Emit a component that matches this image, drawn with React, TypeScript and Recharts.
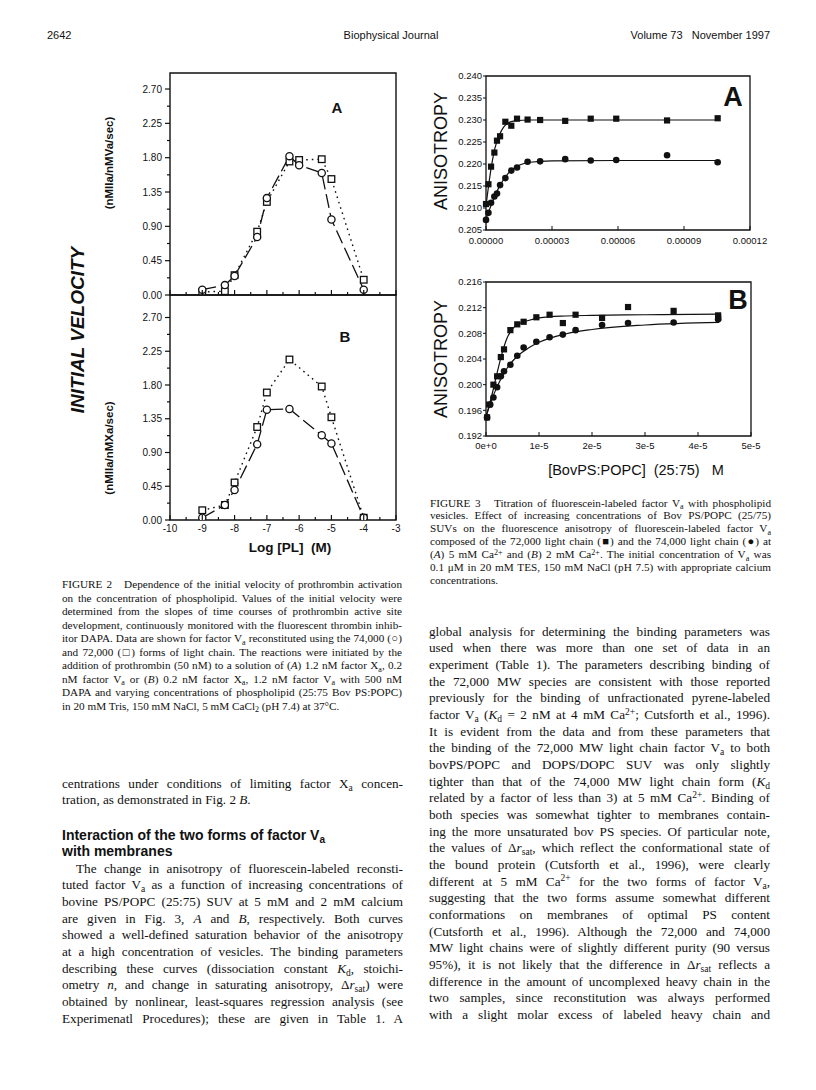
import React from "react";
import {
  LineChart,
  ComposedChart,
  Line,
  Scatter,
  XAxis,
  YAxis,
  ReferenceArea,
} from "recharts";

// ---- Figure 2: initial velocity vs log [PL] ----
const logPL_A = [-9, -8.3, -8, -7.3, -7, -6.3, -6, -5.3, -5, -4];
const velA_74k = [0.07, 0.13, 0.25, 0.76, 1.27, 1.82, 1.7, 1.6, 0.99, 0.07];
const velA_72k = [0.04, 0.05, 0.26, 0.83, 1.22, 1.75, 1.77, 1.78, 1.52, 0.2];

const logPL_B = [-9, -8.3, -8, -7.3, -7, -6.3, -5.3, -5, -4];
const velB_74k = [0.03, 0.2, 0.4, 1.01, 1.47, 1.48, 1.13, 1.02, 0.03];
const velB_72k = [0.13, 0.2, 0.5, 1.24, 1.7, 2.14, 1.78, 1.37, 0.03];

const velTicks = [0, 0.225, 0.45, 0.675, 0.9, 1.125, 1.35, 1.575, 1.8, 2.025, 2.25, 2.475, 2.7];
const logTicks = [-10, -9.5, -9, -8.5, -8, -7.5, -7, -6.5, -6, -5.5, -5, -4.5, -4, -3.5, -3];

// ---- Figure 3A: anisotropy, 5 mM Ca (x in µM) ----
const concA = [0, 1.1, 2.3, 3.8, 5.0, 6.4, 8.8, 11.5, 14.1, 18.9, 24.6, 36.0, 47.6, 59.2, 82.3, 105.3];
const anisoA_72k = [0.2109, 0.2154, 0.2194, 0.2226, 0.2253, 0.2263, 0.2296, 0.2287, 0.2303, 0.2301, 0.23, 0.2298, 0.2303, 0.2303, 0.2299, 0.2304];
const anisoA_74k = [0.2073, 0.2089, 0.2112, 0.2126, 0.2133, 0.2152, 0.2168, 0.2185, 0.2192, 0.2205, 0.2206, 0.2211, 0.2208, 0.2209, 0.222, 0.2204];
const fitA72_x = [0, 2, 4, 6, 8, 10, 13, 20, 30, 105];
const fitA72_y = [0.2105, 0.218, 0.2235, 0.2265, 0.2284, 0.2293, 0.2298, 0.23, 0.23, 0.23];
const fitA74_x = [0, 3, 6, 10, 15, 20, 30, 60, 105];
const fitA74_y = [0.2075, 0.2115, 0.2148, 0.2178, 0.2197, 0.2204, 0.2207, 0.2208, 0.2208];
const concA_ticks = [0, 30, 60, 90, 120];
const anisoA_ticks = [0.205, 0.21, 0.215, 0.22, 0.225, 0.23, 0.235, 0.24];

// ---- Figure 3B: anisotropy, 2 mM Ca (x in 1e-5 M) ----
const concB_72k = [0.02, 0.06, 0.14, 0.21, 0.28, 0.34, 0.46, 0.59, 0.71, 0.95, 1.2, 1.45, 1.69, 2.19, 2.68, 3.54, 4.38, 4.38];
const anisoB_72k = [0.1949, 0.1969, 0.2, 0.2013, 0.2043, 0.2055, 0.2085, 0.2094, 0.2098, 0.2105, 0.2109, 0.2096, 0.2109, 0.2104, 0.2121, 0.2115, 0.2108, 0.2104];
const concB_74k = [0.02, 0.08, 0.14, 0.21, 0.28, 0.34, 0.46, 0.59, 0.71, 0.95, 1.2, 1.45, 1.69, 2.19, 2.68, 3.54, 4.38];
const anisoB_74k = [0.1949, 0.1969, 0.198, 0.1996, 0.2013, 0.2021, 0.2031, 0.2045, 0.2058, 0.2067, 0.2074, 0.2078, 0.2085, 0.2093, 0.2096, 0.2097, 0.2102];
const fitB72_x = [0, 0.1, 0.2, 0.3, 0.4, 0.5, 0.6, 0.8, 1.0, 1.5, 2.0, 3.0, 4.4];
const fitB72_y = [0.195, 0.198, 0.2015, 0.2048, 0.2073, 0.2087, 0.2094, 0.21, 0.2104, 0.2107, 0.2108, 0.2109, 0.211];
const fitB74_x = [0, 0.1, 0.2, 0.3, 0.4, 0.6, 0.8, 1.0, 1.5, 2.0, 3.0, 4.4];
const fitB74_y = [0.195, 0.1975, 0.1995, 0.2012, 0.2026, 0.2045, 0.2057, 0.2066, 0.2079, 0.2086, 0.2093, 0.2097];
const concB_ticks = [0, 1, 2, 3, 4, 5];
const anisoB_ticks = [0.192, 0.196, 0.2, 0.204, 0.208, 0.212, 0.216];

// ---- page text ----
const fig2Caption = [
  "FIGURE 2   Dependence of the initial velocity of prothrombin activation",
  "on the concentration of phospholipid. Values of the initial velocity were",
  "determined from the slopes of time courses of prothrombin active site",
  "development, continuously monitored with the fluorescent thrombin inhib-",
  "itor DAPA. Data are shown for factor V_{a} reconstituted using the 74,000 (○)",
  "and 72,000 (□) forms of light chain. The reactions were initiated by the",
  "addition of prothrombin (50 nM) to a solution of (*A*) 1.2 nM factor X_{a}, 0.2",
  "nM factor V_{a} or (*B*) 0.2 nM factor X_{a}, 1.2 nM factor V_{a} with 500 nM",
  "DAPA and varying concentrations of phospholipid (25:75 Bov PS:POPC)",
  "in 20 mM Tris, 150 mM NaCl, 5 mM CaCl_{2} (pH 7.4) at 37°C.¶",
];
const fig3Caption = [
  "FIGURE 3   Titration of fluorescein-labeled factor V_{a} with phospholipid",
  "vesicles. Effect of increasing concentrations of Bov PS/POPC (25/75)",
  "SUVs on the fluorescence anisotropy of fluorescein-labeled factor V_{a}",
  "composed of the 72,000 light chain (■) and the 74,000 light chain (●) at",
  "(*A*) 5 mM Ca^{2+} and (*B*) 2 mM Ca^{2+}. The initial concentration of V_{a} was",
  "0.1 μM in 20 mM TES, 150 mM NaCl (pH 7.5) with appropriate calcium",
  "concentrations.¶",
];
const leftTop = [
  "centrations under conditions of limiting factor X_{a} concen-",
  "tration, as demonstrated in Fig. 2 *B*.¶",
];
const leftPara = [
  "The change in anisotropy of fluorescein-labeled reconsti-",
  "tuted factor V_{a} as a function of increasing concentrations of",
  "bovine PS/POPC (25:75) SUV at 5 mM and 2 mM calcium",
  "are given in Fig. 3, *A* and *B*, respectively. Both curves",
  "showed a well-defined saturation behavior of the anisotropy",
  "at a high concentration of vesicles. The binding parameters",
  "describing these curves (dissociation constant *K*_{d}, stoichi-",
  "ometry *n*, and change in saturating anisotropy, Δ*r*_{sat}) were",
  "obtained by nonlinear, least-squares regression analysis (see",
  "Experimenatl Procedures); these are given in Table 1. A",
];
const rightPara = [
  "global analysis for determining the binding parameters was",
  "used when there was more than one set of data in an",
  "experiment (Table 1). The parameters describing binding of",
  "the 72,000 MW species are consistent with those reported",
  "previously for the binding of unfractionated pyrene-labeled",
  "factor V_{a} (*K*_{d} = 2 nM at 4 mM Ca^{2+}; Cutsforth et al., 1996).",
  "It is evident from the data and from these parameters that",
  "the binding of the 72,000 MW light chain factor V_{a} to both",
  "bovPS/POPC and DOPS/DOPC SUV was only slightly",
  "tighter than that of the 74,000 MW light chain form (*K*_{d}",
  "related by a factor of less than 3) at 5 mM Ca^{2+}. Binding of",
  "both species was somewhat tighter to membranes contain-",
  "ing the more unsaturated bov PS species. Of particular note,",
  "the values of Δ*r*_{sat}, which reflect the conformational state of",
  "the bound protein (Cutsforth et al., 1996), were clearly",
  "different at 5 mM Ca^{2+} for the two forms of factor V_{a},",
  "suggesting that the two forms assume somewhat different",
  "conformations on membranes of optimal PS content",
  "(Cutsforth et al., 1996). Although the 72,000 and 74,000",
  "MW light chains were of slightly different purity (90 versus",
  "95%), it is not likely that the difference in Δ*r*_{sat} reflects a",
  "difference in the amount of uncomplexed heavy chain in the",
  "two samples, since reconstitution was always performed",
  "with a slight molar excess of labeled heavy chain and",
];

const serif = '"Liberation Serif", "Times New Roman", serif';
const sans = '"Liberation Sans", Arial, Helvetica, sans-serif';
const ink = "#111";

const pts = (xs: number[], ys: number[]) => xs.map((x, i) => ({ x, y: ys[i] }));

// tiny markup: _{sub} ^{sup} *italic*
function rich(s: string) {
  return s.split(/(_\{[^}]*\}|\^\{[^}]*\}|\*[^*]+\*)/).map((p, i) => {
    if (p.startsWith("_{"))
      return (
        <span key={i} style={{ fontSize: "0.72em", position: "relative", top: "0.32em", lineHeight: 0 }}>
          {p.slice(2, -1)}
        </span>
      );
    if (p.startsWith("^{"))
      return (
        <span key={i} style={{ fontSize: "0.72em", position: "relative", top: "-0.45em", lineHeight: 0 }}>
          {p.slice(2, -1)}
        </span>
      );
    if (p.length > 2 && p.startsWith("*")) return <i key={i}>{p.slice(1, -1)}</i>;
    return p;
  });
}

function Lines({ lines, left, top, width, size, lh, indent = 0 }: any) {
  return (
    <>
      {lines.map((raw: string, i: number) => {
        const last = raw.endsWith("¶");
        const s = last ? raw.slice(0, -1) : raw;
        return (
          <div
            key={i}
            style={{
              position: "absolute",
              left: left + (i === 0 ? indent : 0),
              top: top + i * lh - lh / 2,
              width: width - (i === 0 ? indent : 0),
              height: lh,
              lineHeight: `${lh}px`,
              fontFamily: serif,
              fontSize: size,
              textAlign: "justify",
              textAlignLast: last ? "left" : "justify",
              whiteSpace: "pre-wrap",
            }}
          >
            {rich(s)}
          </div>
        );
      })}
    </>
  );
}

function Label({ x, y, size, children, align = "left", weight = 400, italic = false, rotate = false, font = sans }: any) {
  const shift = align === "center" ? "-50%" : align === "right" ? "-100%" : "0";
  return (
    <div
      style={{
        position: "absolute",
        left: x,
        top: y,
        fontFamily: font,
        fontSize: size,
        fontWeight: weight,
        fontStyle: italic ? "italic" : "normal",
        lineHeight: 1,
        whiteSpace: "pre",
        transform: rotate ? "translate(-50%, -50%) rotate(-90deg)" : `translate(${shift}, -50%)`,
      }}
    >
      {children}
    </div>
  );
}

// ---- ticks ----
function LogTick({ x, y, payload, labels }: any) {
  const v = payload.value;
  const major = Number.isInteger(v);
  return (
    <g>
      <line x1={x} x2={x} y1={y} y2={y - (major ? 5 : 3)} stroke={ink} strokeWidth={1.2} />
      {labels && major && (
        <text x={x} y={y + 12} textAnchor="middle" fontSize={10} fontFamily={sans} fill={ink}>
          {v}
        </text>
      )}
    </g>
  );
}

function VelTick({ x, y, payload }: any) {
  const v = payload.value;
  const major = Math.abs(v / 0.45 - Math.round(v / 0.45)) < 1e-6;
  return (
    <g>
      <line x1={x} x2={x - (major ? 5 : 3)} y1={y} y2={y} stroke={ink} strokeWidth={1.2} />
      {major && (
        <text x={x - 8} y={y} dy="0.35em" textAnchor="end" fontSize={10} fontFamily={sans} fill={ink}>
          {v.toFixed(2)}
        </text>
      )}
    </g>
  );
}

function AnisoXTick({ x, y, payload, fmt, dy }: any) {
  return (
    <g>
      <line x1={x} x2={x} y1={y} y2={y - 4} stroke={ink} strokeWidth={1} />
      <text x={x} y={y + dy} textAnchor="middle" fontSize={9.5} fontFamily={sans} fill={ink}>
        {fmt(payload.value)}
      </text>
    </g>
  );
}

function AnisoYTick({ x, y, payload }: any) {
  return (
    <g>
      <line x1={x} x2={x - 3} y1={y} y2={y} stroke={ink} strokeWidth={1} />
      <text x={x - 4} y={y} dy="0.35em" textAnchor="end" fontSize={9.5} fontFamily={sans} fill={ink}>
        {payload.value.toFixed(3)}
      </text>
    </g>
  );
}

const openCircle = (p: any) => (
  <circle key={`oc${p.index}`} cx={p.cx} cy={p.cy} r={3.6} fill="#fff" stroke={ink} strokeWidth={1.3} />
);
const openSquare = (p: any) => (
  <rect key={`os${p.index}`} x={p.cx - 3.3} y={p.cy - 3.3} width={6.6} height={6.6} fill="#fff" stroke={ink} strokeWidth={1.3} />
);
const filledSquare = (p: any) => <rect x={p.cx - 3.1} y={p.cy - 3.1} width={6.2} height={6.2} fill={ink} />;
const filledCircle = (p: any) => <circle cx={p.cx} cy={p.cy} r={3.3} fill={ink} />;

function VelocityPanel({ top, height, yMax, circles, squares, xs, labels, xAxisHeight, bottom }: any) {
  return (
    <div style={{ position: "absolute", left: 110, top }}>
      <LineChart width={300} height={height} margin={{ top: 10, right: 14, bottom, left: 0 }}>
        <XAxis
          type="number"
          dataKey="x"
          domain={[-10, -3]}
          ticks={logTicks}
          interval={0}
          axisLine={false}
          tickLine={false}
          tickSize={0}
          tickMargin={0}
          height={xAxisHeight}
          tick={<LogTick labels={labels} />}
        />
        <YAxis
          type="number"
          dataKey="y"
          domain={[0, yMax]}
          allowDataOverflow
          ticks={velTicks}
          interval={0}
          axisLine={false}
          tickLine={false}
          tickSize={0}
          tickMargin={0}
          width={60}
          tick={<VelTick />}
        />
        <ReferenceArea x1={-10} x2={-3} y1={0} y2={yMax} fill="#fff" fillOpacity={0} stroke={ink} strokeWidth={1.4} ifOverflow="visible" />
        <Line
          data={pts(xs, squares)}
          dataKey="y"
          stroke={ink}
          strokeWidth={1.4}
          strokeDasharray="1.6 4"
          dot={openSquare}
          isAnimationActive={false}
        />
        <Line
          data={pts(xs, circles)}
          dataKey="y"
          stroke={ink}
          strokeWidth={1.3}
          strokeDasharray="14 5"
          dot={openCircle}
          isAnimationActive={false}
        />
      </LineChart>
    </div>
  );
}

function AnisoPanel({ top, right, xMax, xTicks, fmt, yDomain, yTicks, sq, ci, fit72, fit74, dy }: any) {
  return (
    <div style={{ position: "absolute", left: 430, top }}>
      <ComposedChart width={340} height={190} margin={{ top: 10, right, bottom: 6, left: 0 }}>
        <XAxis
          type="number"
          dataKey="x"
          domain={[0, xMax]}
          ticks={xTicks}
          interval={0}
          axisLine={false}
          tickLine={false}
          tickSize={0}
          tickMargin={0}
          height={20}
          tick={<AnisoXTick fmt={fmt} dy={dy} />}
        />
        <YAxis
          type="number"
          dataKey="y"
          domain={yDomain}
          allowDataOverflow
          ticks={yTicks}
          interval={0}
          axisLine={false}
          tickLine={false}
          tickSize={0}
          tickMargin={0}
          width={56}
          tick={<AnisoYTick />}
        />
        <ReferenceArea x1={0} x2={xMax} y1={yDomain[0]} y2={yDomain[1]} fill="#fff" fillOpacity={0} stroke={ink} strokeWidth={1.3} ifOverflow="visible" />
        <Line data={fit72} dataKey="y" type="monotone" stroke={ink} strokeWidth={1.2} dot={false} isAnimationActive={false} />
        <Line data={fit74} dataKey="y" type="monotone" stroke={ink} strokeWidth={1.2} dot={false} isAnimationActive={false} />
        <Scatter data={sq} dataKey="y" shape={filledSquare} isAnimationActive={false} />
        <Scatter data={ci} dataKey="y" shape={filledCircle} isAnimationActive={false} />
      </ComposedChart>
    </div>
  );
}

export default function App() {
  return (
    <div
      style={{
        position: "absolute",
        left: 0,
        top: 0,
        width: 816,
        height: 1090,
        background: "#fff",
        color: ink,
        overflow: "hidden",
      }}
    >
      {/* running head */}
      <Label x={47} y={35} size={11}>2642</Label>
      <Label x={391} y={35} size={11} align="center">Biophysical Journal</Label>
      <Label x={770} y={35} size={11} align="right">{"Volume 73   November 1997"}</Label>

      {/* Figure 2 */}
      <VelocityPanel top={63} height={240} yMax={2.91} xs={logPL_A} circles={velA_74k} squares={velA_72k} labels={false} xAxisHeight={1} bottom={7} />
      <VelocityPanel top={285} height={275} yMax={3.0} xs={logPL_B} circles={velB_74k} squares={velB_72k} labels xAxisHeight={30} bottom={10} />
      <Label x={337} y={107} size={15} weight={700} align="center">A</Label>
      <Label x={345} y={336} size={15} weight={700} align="center">B</Label>
      <Label x={77} y={330} size={19} weight={700} italic rotate>INITIAL VELOCITY</Label>
      <Label x={110} y={163} size={11.5} weight={700} rotate>(nMIIa/nMVa/sec)</Label>
      <Label x={110} y={448} size={11.5} weight={700} rotate>(nMIIa/nMXa/sec)</Label>
      <Label x={290} y={548} size={13.5} weight={700} align="center">{"Log [PL]  (M)"}</Label>

      {/* Figure 3 */}
      <AnisoPanel
        top={66}
        right={20}
        xMax={120}
        xTicks={concA_ticks}
        fmt={(v: number) => (v * 1e-6).toFixed(5)}
        yDomain={[0.205, 0.24]}
        yTicks={anisoA_ticks}
        sq={pts(concA, anisoA_72k)}
        ci={pts(concA, anisoA_74k)}
        fit72={pts(fitA72_x, fitA72_y)}
        fit74={pts(fitA74_x, fitA74_y)}
        dy={14}
      />
      <AnisoPanel
        top={272}
        right={19}
        xMax={5}
        xTicks={concB_ticks}
        fmt={(v: number) => (v === 0 ? "0e+0" : `${v}e-5`)}
        yDomain={[0.192, 0.216]}
        yTicks={anisoB_ticks}
        sq={pts(concB_72k, anisoB_72k)}
        ci={pts(concB_74k, anisoB_74k)}
        fit72={pts(fitB72_x, fitB72_y)}
        fit74={pts(fitB74_x, fitB74_y)}
        dy={13}
      />
      <Label x={733} y={97} size={27} weight={700} align="center">A</Label>
      <Label x={738} y={300} size={27} weight={700} align="center">B</Label>
      <Label x={441} y={151} size={18} rotate>ANISOTROPY</Label>
      <Label x={441} y={359} size={18} rotate>ANISOTROPY</Label>
      <Label x={636} y={470} size={14.5} align="center">{"[BovPS:POPC]  (25:75)   M"}</Label>

      {/* captions and body text */}
      <Lines lines={fig2Caption} left={62} top={585} width={340} size={11.2} lh={13.5} />
      <Lines lines={fig3Caption} left={430} top={503} width={341} size={11.2} lh={12.9} />
      <Lines lines={leftTop} left={62} top={784} width={341} size={13.2} lh={16.67} />
      <div style={{ position: "absolute", left: 62, top: 827, fontFamily: sans, fontWeight: 700, fontSize: 14, lineHeight: "16px" }}>
        <div>{rich("Interaction of the two forms of factor V_{a}")}</div>
        <div>with membranes</div>
      </div>
      <Lines lines={leftPara} left={62} top={869} width={341} size={13.2} lh={16.67} indent={14} />
      <Lines lines={rightPara} left={429} top={632} width={341} size={13.2} lh={16.67} />
    </div>
  );
}
